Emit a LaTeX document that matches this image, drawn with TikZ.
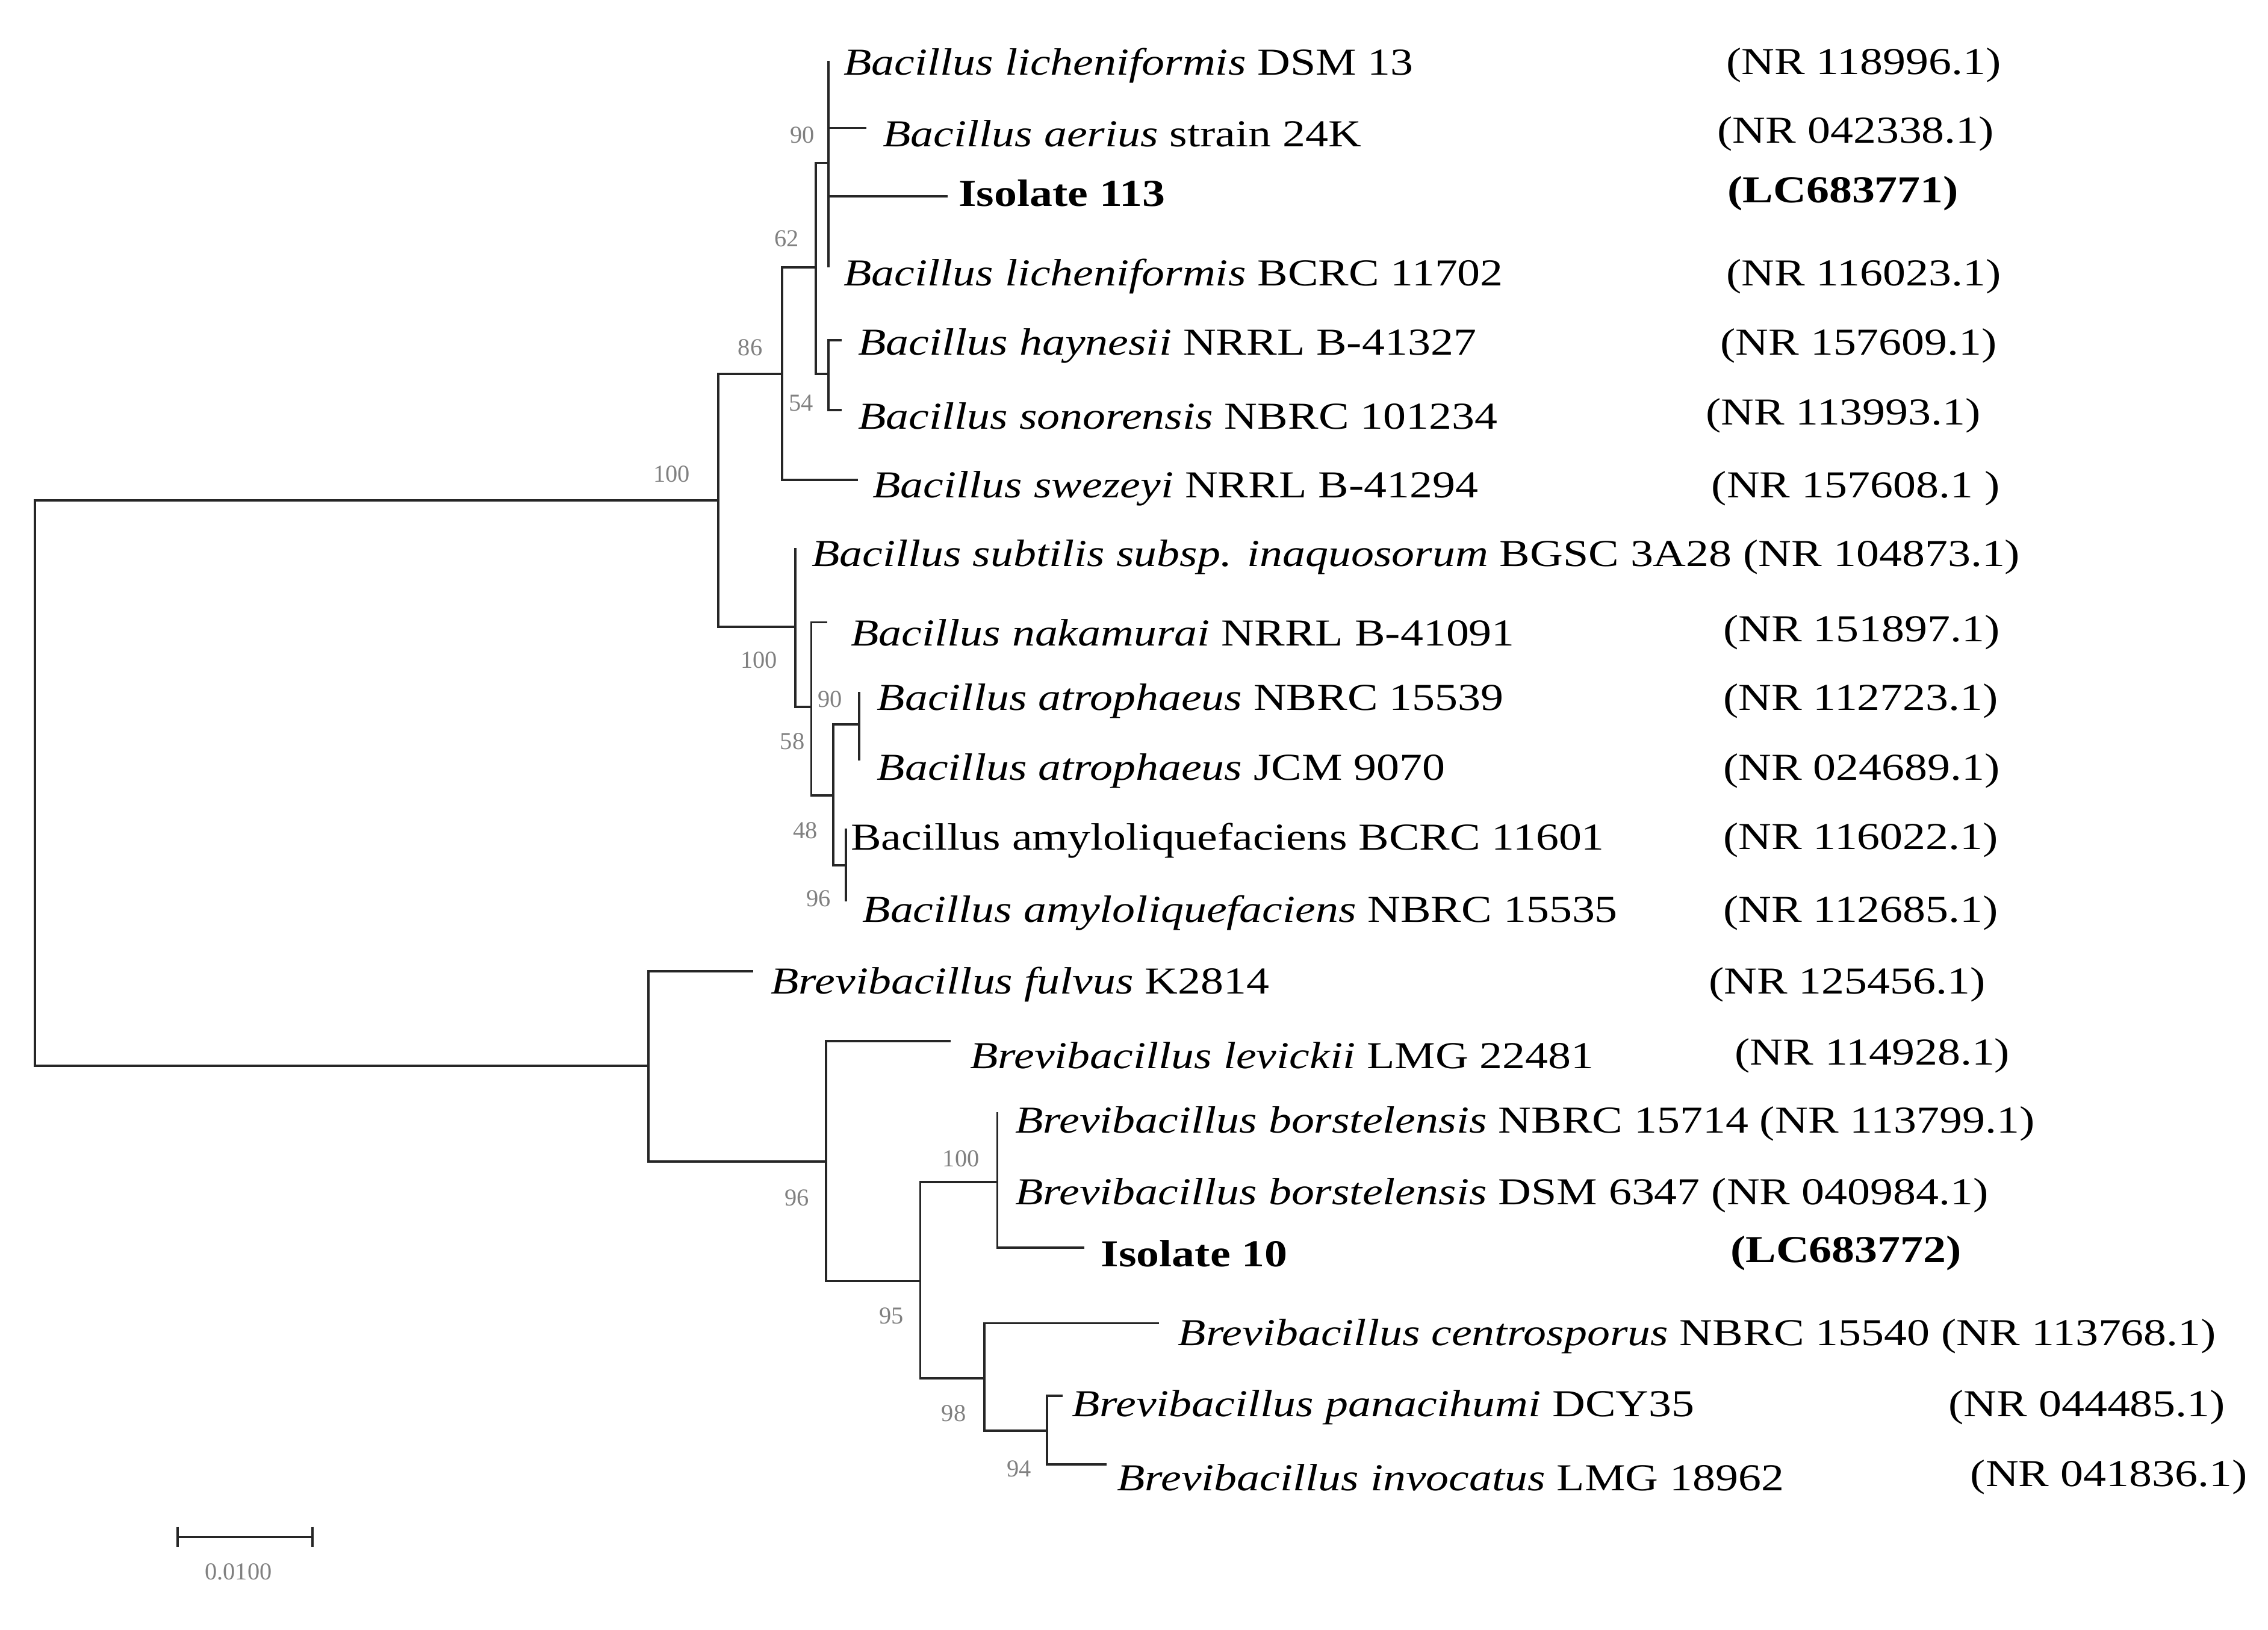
\documentclass[tikz,border=0pt]{standalone}
\usepackage{fontspec}
\setmainfont{Liberation Serif}[FakeStretch=1.2]
\newfontfamily\bsfont{Liberation Serif}
\begin{document}
\begin{tikzpicture}[x=0.02415cm,y=-0.02415cm,
  br/.style={line width=1.1pt,black!85},
  lab/.style={anchor=west,inner sep=0pt,font=\fontsize{18}{20}\selectfont},
  acc/.style={anchor=west,inner sep=0pt,font=\fontsize{18}{20}\selectfont},
  bs/.style={inner sep=0pt,text=black!50,font=\bsfont\fontsize{11.5}{13}\selectfont}]
\useasboundingbox[fill=white] (0,0) rectangle (1560,1121);
% internal nodes
\coordinate (root) at (24,540);
\coordinate (B) at (494,344);
\coordinate (n86) at (538,257);
\coordinate (n62) at (561,184);
\coordinate (n90) at (570,112);
\coordinate (n54) at (570,257);
\coordinate (nS) at (547,431);
\coordinate (n58) at (558,486);
\coordinate (n48) at (573,547);
\coordinate (n90b) at (591,498);
\coordinate (n96b) at (582,595);
\coordinate (Br) at (446,733);
\coordinate (n96) at (568,799);
\coordinate (n95) at (633,881);
\coordinate (n100c) at (686,813);
\coordinate (n98) at (677,948);
\coordinate (n94) at (720,984);
% leaf tips
\coordinate (l1) at (570,42);
\coordinate (l2) at (596,88);
\coordinate (l3) at (652,135);
\coordinate (l4) at (570,184);
\coordinate (l5) at (579,234);
\coordinate (l6) at (579,282);
\coordinate (l7) at (590,330);
\coordinate (l8) at (547,377);
\coordinate (l9) at (569,428);
\coordinate (l10) at (591,476);
\coordinate (l11) at (591,523);
\coordinate (l12) at (582,570);
\coordinate (l13) at (582,620);
\coordinate (l14) at (518,668);
\coordinate (l15) at (654,716);
\coordinate (l16) at (686,765);
\coordinate (l17) at (686,813);
\coordinate (l18) at (746,858);
\coordinate (l19) at (797,910);
\coordinate (l20) at (731,960);
\coordinate (l21) at (761,1007);
% branches
\draw[br] (root) |- (B); \draw[br] (root) |- (Br);
\draw[br] (B) |- (n86); \draw[br] (B) |- (nS);
\draw[br] (n86) |- (n62); \draw[br] (n86) |- (l7);
\draw[br] (n62) |- (n90); \draw[br] (n62) |- (n54);
\draw[br] (n90) |- (l1); \draw[br] (n90) |- (l2); \draw[br] (n90) |- (l3); \draw[br] (n90) |- (l4);
\draw[br] (n54) |- (l5); \draw[br] (n54) |- (l6);
\draw[br] (nS) |- (l8); \draw[br] (nS) |- (n58);
\draw[br] (n58) |- (l9); \draw[br] (n58) |- (n48);
\draw[br] (n48) |- (n90b); \draw[br] (n48) |- (n96b);
\draw[br] (n90b) |- (l10); \draw[br] (n90b) |- (l11);
\draw[br] (n96b) |- (l12); \draw[br] (n96b) |- (l13);
\draw[br] (Br) |- (l14); \draw[br] (Br) |- (n96);
\draw[br] (n96) |- (l15); \draw[br] (n96) |- (n95);
\draw[br] (n95) |- (n100c); \draw[br] (n95) |- (n98);
\draw[br] (n100c) |- (l16); \draw[br] (n100c) |- (l17); \draw[br] (n100c) |- (l18);
\draw[br] (n98) |- (l19); \draw[br] (n98) |- (n94);
\draw[br] (n94) |- (l20); \draw[br] (n94) |- (l21);
% leaf labels
\node[lab] (t1) at (580,45) {\textit{Bacillus licheniformis} DSM 13};
\node[lab] (t2) at (607,92) {\textit{Bacillus aerius} strain 24K};
\node[lab] (t3) at (659,133) {\textbf{Isolate 113}};
\node[lab] (t4) at (580,190) {\textit{Bacillus licheniformis} BCRC 11702};
\node[lab] (t5) at (590,238) {\textit{Bacillus haynesii} NRRL B-41327};
\node[lab] (t6) at (590,286) {\textit{Bacillus sonorensis} NBRC 101234};
\node[lab] (t7) at (600,336) {\textit{Bacillus swezeyi} NRRL B-41294};
\node[lab] (t8) at (558,383) {\textit{Bacillus subtilis subsp. inaquosorum} BGSC 3A28 (NR 104873.1)};
\node[lab] (t9) at (585,435) {\textit{Bacillus nakamurai} NRRL B-41091};
\node[lab] (t10) at (603,482) {\textit{Bacillus atrophaeus} NBRC 15539};
\node[lab] (t11) at (603,530) {\textit{Bacillus atrophaeus} JCM 9070};
\node[lab] (t12) at (585,578) {Bacillus amyloliquefaciens BCRC 11601};
\node[lab] (t13) at (593,628) {\textit{Bacillus amyloliquefaciens} NBRC 15535};
\node[lab] (t14) at (530,677) {\textit{Brevibacillus fulvus} K2814};
\node[lab] (t15) at (667,726) {\textit{Brevibacillus levickii} LMG 22481};
\node[lab] (t16) at (698,773) {\textit{Brevibacillus borstelensis} NBRC 15714 (NR 113799.1)};
\node[lab] (t17) at (698,822) {\textit{Brevibacillus borstelensis} DSM 6347 (NR 040984.1)};
\node[lab] (t18) at (757,862) {\textbf{Isolate 10}};
\node[lab] (t19) at (810,919) {\textit{Brevibacillus centrosporus} NBRC 15540 (NR 113768.1)};
\node[lab] (t20) at (737,968) {\textit{Brevibacillus panacihumi} DCY35};
\node[lab] (t21) at (768,1016) {\textit{Brevibacillus invocatus} LMG 18962};
% accessions
\node[acc] (a1) at (1187,45) {(NR 118996.1)};
\node[acc] (a2) at (1181,92) {(NR 042338.1)};
\node[acc] (a3) at (1188,133) {\textbf{(LC683771)}};
\node[acc] (a4) at (1187,190) {(NR 116023.1)};
\node[acc] (a5) at (1183,238) {(NR 157609.1)};
\node[acc] (a6) at (1173,286) {(NR 113993.1)};
\node[acc] (a7) at (1177,336) {(NR 157608.1 )};
\node[acc] (a9) at (1185,435) {(NR 151897.1)};
\node[acc] (a10) at (1185,482) {(NR 112723.1)};
\node[acc] (a11) at (1185,530) {(NR 024689.1)};
\node[acc] (a12) at (1185,578) {(NR 116022.1)};
\node[acc] (a13) at (1185,628) {(NR 112685.1)};
\node[acc] (a14) at (1175,677) {(NR 125456.1)};
\node[acc] (a15) at (1193,726) {(NR 114928.1)};
\node[acc] (a18) at (1190,862) {\textbf{(LC683772)}};
\node[acc] (a20) at (1340,968) {(NR 044485.1)};
\node[acc] (a21) at (1355,1016) {(NR 041836.1)};
% bootstrap values
\node[bs] (b1) at (552,93) {90};
\node[bs] (b2) at (541,164) {62};
\node[bs] (b3) at (516,239) {86};
\node[bs] (b4) at (551,277) {54};
\node[bs] (b5) at (462,326) {100};
\node[bs] (b6) at (522,454) {100};
\node[bs] (b7) at (571,481) {90};
\node[bs] (b8) at (545,510) {58};
\node[bs] (b9) at (554,571) {48};
\node[bs] (b10) at (563,618) {96};
\node[bs] (b11) at (548,824) {96};
\node[bs] (b12) at (661,797) {100};
\node[bs] (b13) at (613,905) {95};
\node[bs] (b14) at (656,972) {98};
\node[bs] (b15) at (701,1010) {94};
% scale bar
\coordinate (s1) at (122,1057);
\coordinate (s2) at (215,1057);
\draw[br] (s1) -- (s2);
\draw[br] (122,1050) -- (122,1064);
\draw[br] (215,1050) -- (215,1064);
\node[bs] (sc) at (164,1081) {0.0100};
\end{tikzpicture}
\end{document}
